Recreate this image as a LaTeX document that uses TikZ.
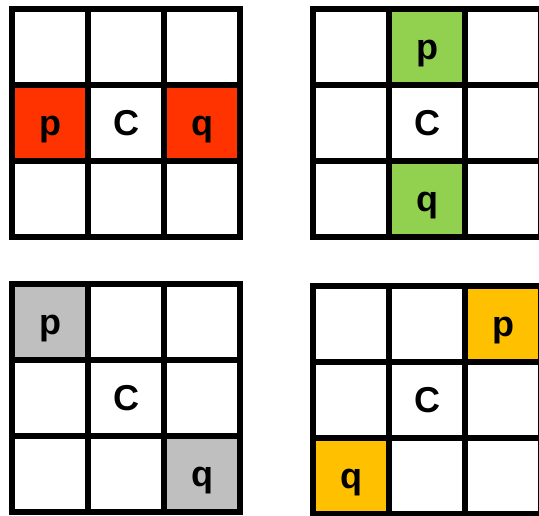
\documentclass[tikz,border=0pt]{standalone}
\usepackage{fontspec}
\setmainfont{Liberation Sans}
\usetikzlibrary{positioning}
\usepackage{xcolor}
\definecolor{redcell}{HTML}{FF3300}
\definecolor{greencell}{HTML}{92D050}
\definecolor{graycell}{HTML}{C0BFC0}
\definecolor{ambercell}{HTML}{FFC000}

\begin{document}
\begin{tikzpicture}[
    x=1pt, y=-1pt,
    cell/.style={draw, line width=6pt, minimum size=76pt, inner sep=0pt,
      text height=24pt, text depth=0pt, font=\bfseries\fontsize{36}{36}\selectfont}
  ]
  \useasboundingbox (0,0) rectangle (539,515);
  \clip (0,0) rectangle (539,515);

  % Grids: name / origin / colour / p cell / q cell
  \foreach \g/\gx/\gy/\col/\pr/\pc/\qr/\qc in {
      a/12/9/redcell/2/1/2/3,
      b/313/9/greencell/1/2/3/2,
      c/12/284/graycell/1/1/3/3,
      d/313/286/ambercell/1/3/3/1} {
    \foreach \r in {1,2,3} {
      \foreach \c in {1,2,3} {
        \def\txt{}\def\fillc{white}
        \ifnum\r\c=\pr\pc \def\txt{p}\def\fillc{\col}\fi
        \ifnum\r\c=\qr\qc \def\txt{q}\def\fillc{\col}\fi
        \ifnum\r\c=22 \def\txt{C}\fi
        \node[cell, fill=\fillc] (\g-\r-\c) at ({\gx+38+76*(\c-1)}, {\gy+38+76*(\r-1)}) {\txt};
      }
    }
  }
\end{tikzpicture}
\end{document}
